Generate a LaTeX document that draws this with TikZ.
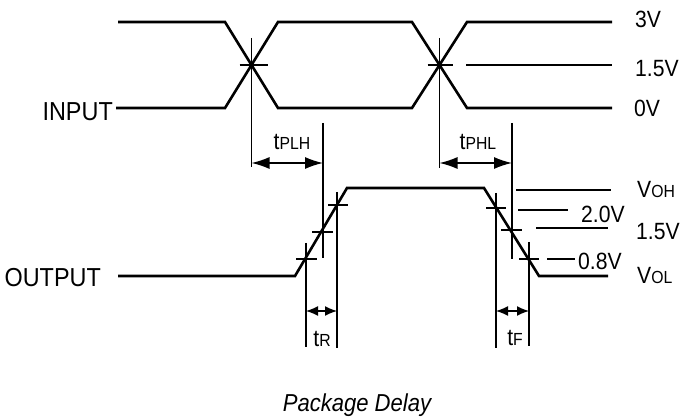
\documentclass[tikz,border=0pt]{standalone}
\usepackage{fontspec}
\setmainfont[FakeStretch=0.9]{Liberation Sans}
\usetikzlibrary{arrows.meta}
\newcommand\smpart[1]{{\fontsize{17.5}{20}\selectfont #1}}
\begin{document}
\begin{tikzpicture}[x=1pt,y=-1pt,
  wave/.style={line width=2.6pt, line join=miter},
  thinline/.style={line width=1.4pt},
  dimarrow/.style={line width=1.4pt, {Latex[length=18pt,width=12pt]}-{Latex[length=18pt,width=12pt]}},
  dimsmall/.style={line width=1.4pt, {Latex[length=12pt,width=10pt]}-{Latex[length=12pt,width=10pt]}},
  labw/.style={inner sep=0pt, anchor=base west, font=\fontsize{23.5}{27}\selectfont},
  labe/.style={inner sep=0pt, anchor=base east, font=\fontsize{26}{30}\selectfont},
  labc/.style={inner sep=0pt, anchor=base, font=\fontsize{23.5}{27}\selectfont},
]
\useasboundingbox (0,0) rectangle (689,419);

% ---------- input waveform ----------
\coordinate (inA) at (118,22);
\coordinate (inB) at (116,108);
\coordinate (x1) at (251.5,65);
\coordinate (x2) at (439.5,65);
\draw[wave] (inA) -- (225,22) -- (278,108) -- (412,108) -- (467,22) -- (612,22);
\draw[wave] (inB) -- (225,108) -- (278,22) -- (412,22) -- (467,108) -- (612,108);

% crossing marks
\draw[thinline] ([xshift=-12pt]x1) -- ([xshift=16pt]x1);
\draw[thinline] ([xshift=-12pt]x2) -- ([xshift=13pt]x2);
\coordinate (v1top) at (251.5,38);
\coordinate (v1bot) at (251.5,167);
\coordinate (v2top) at (439.5,38);
\coordinate (v2bot) at (439.5,168);
\draw[thinline] (v1top) -- (v1bot);
\draw[thinline] (v2top) -- (v2bot);

% 1.5V reference line
\coordinate (r15a) at (466,65);
\coordinate (r15b) at (612,65);
\draw[thinline] (r15a) -- (r15b);

% ---------- output waveform ----------
\coordinate (outA) at (118,276);
\draw[wave] (outA) -- (295,276) -- (347,188) -- (484,188) -- (539,276) -- (608,276);

% tPLH / tPHL verticals
\coordinate (vPLHt) at (323,123);
\coordinate (vPLHb) at (323,258);
\coordinate (vPHLt) at (512,123);
\coordinate (vPHLb) at (512,259);
\draw[thinline] (vPLHt) -- (vPLHb);
\draw[thinline] (vPHLt) -- (vPHLb);

% arrows tPLH / tPHL
\coordinate (aPLHl) at (251.5,163);
\coordinate (aPLHr) at (323,163);
\coordinate (aPHLl) at (439.5,163);
\coordinate (aPHLr) at (512,163);
\draw[dimarrow] (aPLHl) -- (aPLHr);
\draw[dimarrow] (aPHLl) -- (aPHLr);

% rising edge ticks
\draw[thinline] (296,259) -- (317,259);
\draw[thinline] (312,232) -- (333,232);
\draw[thinline] (328,205) -- (348,205);
\coordinate (vRlt) at (306,243);
\coordinate (vRlb) at (306,347);
\coordinate (vRrt) at (337,192);
\coordinate (vRrb) at (337,348);
\draw[thinline] (vRlt) -- (vRlb);
\draw[thinline] (vRrt) -- (vRrb);
\coordinate (aRl) at (306,311);
\coordinate (aRr) at (337,311);
\draw[dimsmall] (aRl) -- (aRr);

% falling edge ticks
\draw[thinline] (486,208) -- (506,208);
\draw[thinline] (501,230) -- (522,230);
\draw[thinline] (519,259) -- (539,259);
\coordinate (vFlt) at (496,193);
\coordinate (vFlb) at (496,348);
\coordinate (vFrt) at (529,242);
\coordinate (vFrb) at (529,346);
\draw[thinline] (vFlt) -- (vFlb);
\draw[thinline] (vFrt) -- (vFrb);
\coordinate (aFl) at (496,311);
\coordinate (aFr) at (529,311);
\draw[dimsmall] (aFl) -- (aFr);

% output reference lines
\draw[thinline] (516,190) -- (611,190);
\draw[thinline] (518,210) -- (568,210);
\draw[thinline] (536,228) -- (608,228);
\draw[thinline] (547,259) -- (575,259);

% ---------- labels ----------
\node[labe] (linput) at (113,121) {INPUT};
\node[labe] (loutput) at (101,287) {OUTPUT};
\node[labw] (l3v) at (635,28) {3V};
\node[labw] (l15v) at (635,77) {1.5V};
\node[labw] (l0v) at (634,117) {0V};
\node[labc] (ltplh) at (292,150) {t\smpart{PLH}};
\node[labc] (ltphl) at (478,150) {t\smpart{PHL}};
\node[labc] (ltr) at (322,347) {t\smpart{R}};
\node[labc] (ltf) at (515,346) {t\smpart{F}};
\node[labw] (lvoh) at (637,198) {V\smpart{OH}};
\node[labw] (l20v) at (581,223) {2.0V};
\node[labw] (l15vo) at (636,240) {1.5V};
\node[labw] (l08v) at (578,270) {0.8V};
\node[labw] (lvol) at (637,284) {V\smpart{OL}};
\node[inner sep=0pt, anchor=base, font=\fontsize{24.5}{28}\selectfont\itshape] (cap) at (357,412) {Package Delay};
\end{tikzpicture}
\end{document}
